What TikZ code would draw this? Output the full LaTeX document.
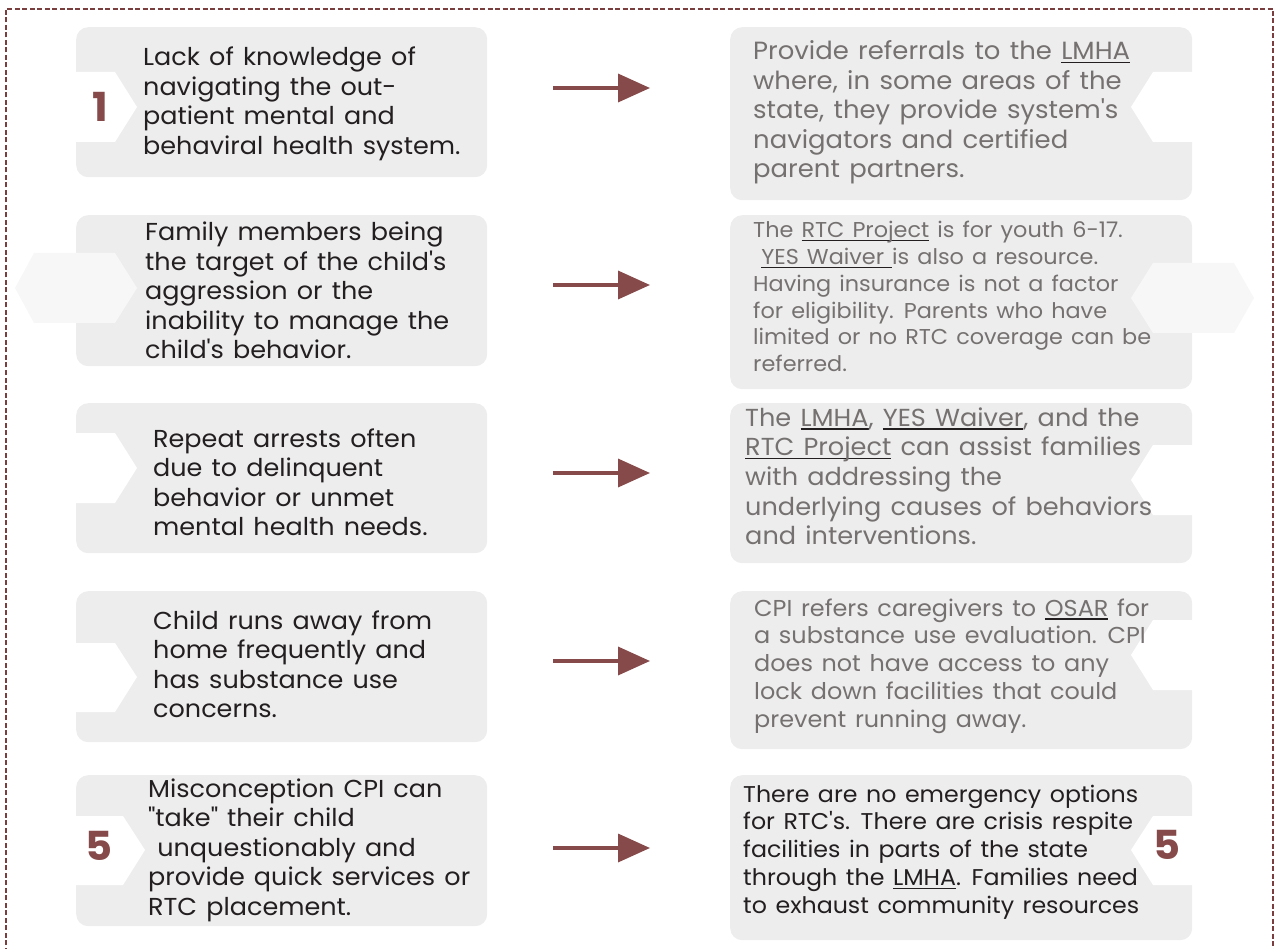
\documentclass[tikz,border=0pt]{standalone}
\usepackage{fontspec}
\setmainfont{Poppins}[FakeStretch=1.04, WordSpace=1.35]
\usetikzlibrary{arrows.meta}
\definecolor{boxgray}{HTML}{EDEDED}
\definecolor{maroon}{HTML}{874A4A}
\definecolor{darktxt}{HTML}{231F20}
\definecolor{graytxt}{HTML}{767171}
\definecolor{hexfill}{HTML}{F7F7F7}
\definecolor{bordercol}{HTML}{7A3E3E}
\newsavebox\ulbox
\newcommand\ulk[1]{\sbox\ulbox{#1}\rlap{\color{darktxt}\rule[-3.5pt]{\wd\ulbox}{1.2pt}}\usebox\ulbox}
\newcommand\blk[1]{\begin{tabular}[t]{@{}l@{}}#1\end{tabular}}
\newcommand\ap{{\XeTeXglyph\XeTeXcharglyph"27 }}
\newcommand\dq{{\XeTeXglyph\XeTeXcharglyph"22 }}
\begin{document}
\begin{tikzpicture}[x=1pt,y=-1pt,
  box/.style={fill=boxgray, rounded corners=12pt, inner sep=0pt, anchor=north west, minimum width=#1},
  box/.default=411pt,
  notchfill/.style={fill=white},
  hexnotch/.style={fill=hexfill},
  ltext/.style={anchor=base west, inner sep=0pt, text=darktxt, font=\fontsize{24.5}{29.5}\selectfont},
  rtext/.style={anchor=base west, inner sep=0pt, text=graytxt},
  num/.style={inner sep=0pt, text=maroon, font=\fontsize{40}{40}\selectfont\bfseries},
  arr/.style={draw=maroon, line width=3.5pt, -{Triangle[length=32pt,width=28pt]}}]
\useasboundingbox (0,0) rectangle (1277,949);
% dashed frame
\draw[bordercol, line width=1.2pt, dash pattern=on 5pt off 2.5pt] (6,960) -- (6,9) -- (1273,9) -- (1273,960);

% left boxes
\node[box, minimum height=150pt] (L1) at (76,27) {};
\node[box, minimum height=151pt] (L2) at (76,215) {};
\node[box, minimum height=150pt] (L3) at (76,403) {};
\node[box, minimum height=151pt] (L4) at (76,591) {};
\node[box, minimum height=151pt] (L5) at (76,775) {};
% right boxes
\node[box=462pt, minimum height=173pt] (R1) at (730,27) {};
\node[box=462pt, minimum height=174pt] (R2) at (730,215) {};
\node[box=462pt, minimum height=160pt] (R3) at (730,403) {};
\node[box=462pt, minimum height=158pt] (R4) at (730,591) {};
\node[box=462pt, minimum height=165pt] (R5) at (730,775) {};

% notches left
\fill[notchfill] (75,72) -- (115,72) -- (137,107) -- (115,142) -- (75,142) -- cycle;
\fill[hexnotch] (15,288) -- (34,253) -- (115,253) -- (137,288) -- (115,323) -- (34,323) -- cycle;
\fill[notchfill] (75,433) -- (115,433) -- (137,468) -- (115,503) -- (75,503) -- cycle;
\fill[notchfill] (75,643) -- (115,643) -- (137,677) -- (115,712) -- (75,712) -- cycle;
\fill[notchfill] (75,816) -- (123,816) -- (145,850) -- (123,885) -- (75,885) -- cycle;
% notches right
\fill[notchfill] (1193,72) -- (1153,72) -- (1131,107) -- (1153,142) -- (1193,142) -- cycle;
\fill[hexnotch] (1131,298) -- (1153,263) -- (1234,263) -- (1254,298) -- (1234,333) -- (1153,333) -- cycle;
\fill[notchfill] (1193,445) -- (1153,445) -- (1131,480) -- (1153,515) -- (1193,515) -- cycle;
\fill[notchfill] (1193,620) -- (1153,620) -- (1131,655) -- (1153,690) -- (1193,690) -- cycle;
\fill[notchfill] (1193,816) -- (1153,816) -- (1131,850) -- (1153,885) -- (1193,885) -- cycle;

% numbers
\node[num] (n1) at (100,107) {1};
\node[num] (n5) at (99,846) {5};
\node[num] (n5r) at (1167,845) {5};

% left texts
\node[ltext] (t1) at (143,66) {\blk{Lack of knowledge of\\navigating the out-\\patient mental and\\behaviral health system.}};
\node[ltext] (t2) at (145,241) {\blk{Family members being\\the target of the child\ap s\\aggression or the\\inability to manage the\\child\ap s behavior.}};
\node[ltext] (t3) at (153,447) {\blk{Repeat arrests often\\due to delinquent\\behavior or unmet\\mental health needs.}};
\node[ltext] (t4) at (153,629) {\blk{Child runs away from\\home frequently and\\has substance use\\concerns.}};
\node[ltext] (t5) at (148,797) {\blk{Misconception CPI can\\\dq take\dq{} their child\\\ unquestionably and\\provide quick services or\\RTC placement.}};

% right texts
\node[rtext, font=\fontsize{24.9}{29.4}\selectfont] (s1) at (753,60) {\blk{Provide referrals to the \ulk{LMHA}\\where, in some areas of the\\state, they provide system\ap s\\navigators and certified\\parent partners.}};
\node[rtext, font=\fontsize{21.5}{26.7}\selectfont] (s2) at (753,238) {\blk{The \ulk{RTC Project} is for youth 6-17.\\\ \ulk{YES Waiver\ }is also a resource.\\Having insurance is not a factor\\for eligibility. Parents who have\\limited or no RTC coverage can be\\referred.}};
\node[rtext, font=\fontsize{24.6}{29.75}\selectfont] (s3) at (745,426) {\blk{The \ulk{LMHA}, \ulk{YES Waiver}, and the\\\ulk{RTC Project} can assist families\\with addressing the\\underlying causes of behaviors\\and interventions.}};
\node[rtext, font=\fontsize{23}{27.8}\selectfont] (s4) at (754,616) {\blk{CPI refers caregivers to \ulk{OSAR} for\\a substance use evaluation. CPI\\does not have access to any\\lock down facilities that could\\prevent running away.}};
\node[rtext, text=darktxt, font=\fontsize{22.8}{27.75}\selectfont] (s5) at (743,802) {\blk{There are no emergency options\\for RTC\ap s. There are crisis respite\\facilities in parts of the state\\through the \ulk{LMHA}. Families need\\to exhaust community resources}};

% arrows
\coordinate (a1s) at (553,88);  \coordinate (a1e) at (650,88);
\coordinate (a2s) at (553,285); \coordinate (a2e) at (650,285);
\coordinate (a3s) at (553,473); \coordinate (a3e) at (650,473);
\coordinate (a4s) at (553,661); \coordinate (a4e) at (650,661);
\coordinate (a5s) at (553,848); \coordinate (a5e) at (650,848);
\draw[arr] (a1s) -- (a1e);
\draw[arr] (a2s) -- (a2e);
\draw[arr] (a3s) -- (a3e);
\draw[arr] (a4s) -- (a4e);
\draw[arr] (a5s) -- (a5e);
\end{tikzpicture}
\end{document}
